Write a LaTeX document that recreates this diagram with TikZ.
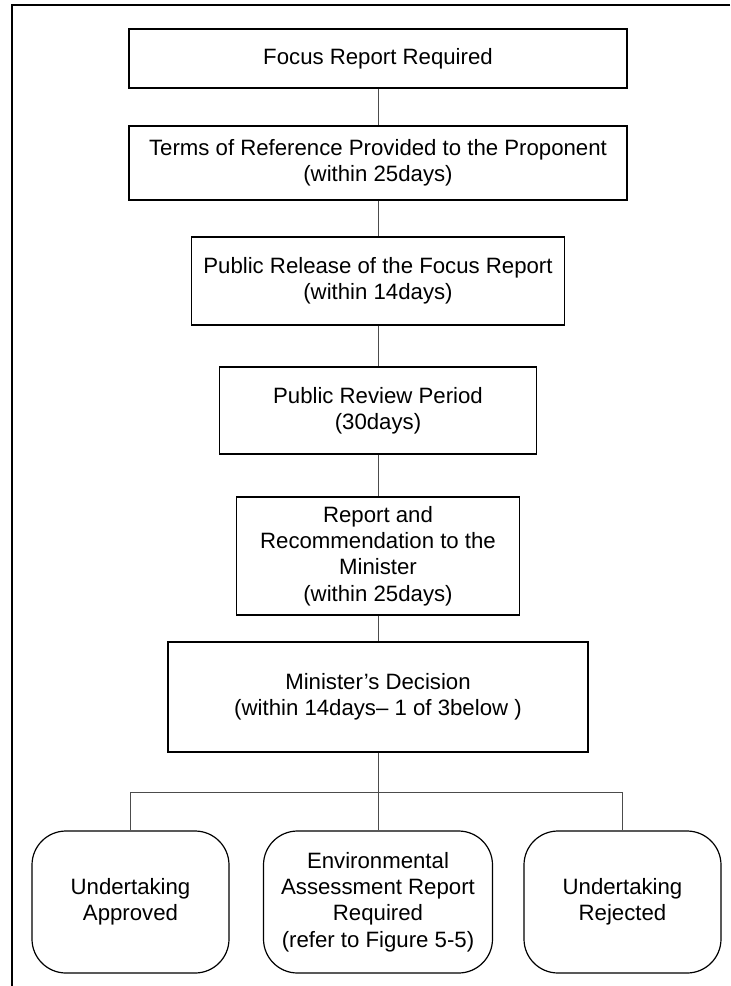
\documentclass[tikz,border=0pt]{standalone}
\usepackage{fontspec}
\setmainfont{Liberation Sans}
\begin{document}
\begin{tikzpicture}[x=0.5pt, y=-0.5pt,
	font=\fontsize{11.1}{13.2}\selectfont,
	stage/.style={draw, line width=0.6pt, align=center, inner sep=0pt},
	outcome/.style={stage, rounded corners=17pt, minimum width=98.5pt, minimum height=71pt},
	link/.style={draw=black!70, line width=0.5pt}]
	\useasboundingbox (0,0) rectangle (730,986);
	\draw[line width=0.6pt] (730,5) -- (12,5) -- (12,986);
	\node[stage, minimum width=249pt, minimum height=29.5pt] (S1) at (378,58.5) {Focus Report Required};
	\node[stage, minimum width=249pt, minimum height=37pt] (S2) at (378,163) {Terms of Reference Provided to the Proponent\\(within 25days)};
	\node[stage, minimum width=186.5pt, minimum height=44pt] (S3) at (378,281) {Public Release of the Focus Report\\(within 14days)};
	\node[stage, minimum width=158.5pt, minimum height=43.5pt] (S4) at (378,410.5) {Public Review Period\\(30days)};
	\node[stage, minimum width=141.5pt, minimum height=59pt] (S5) at (378,556) {Report and\\Recommendation to the\\Minister\\(within 25days)};
	\node[stage, minimum width=210pt, minimum height=55pt] (S6) at (378,697) {Minister’s Decision\\(within 14days– 1 of 3below )};
	\node[outcome] (O1) at (130.5,902) {Undertaking\\Approved};
	\node[outcome, minimum width=114.5pt] (O2) at (378,902) {Environmental\\Assessment Report\\Required\\(refer to Figure 5-5)};
	\node[outcome] (O3) at (622.5,902) {Undertaking\\Rejected};
	\coordinate (fork) at (378,792);
	\foreach \a/\b in {S1/S2, S2/S3, S3/S4, S4/S5, S5/S6, S6/fork, fork/O2}
		\draw[link] (\a) -- (\b);
	\draw[link] (O1) |- (fork) -| (O3);
\end{tikzpicture}
\end{document}
